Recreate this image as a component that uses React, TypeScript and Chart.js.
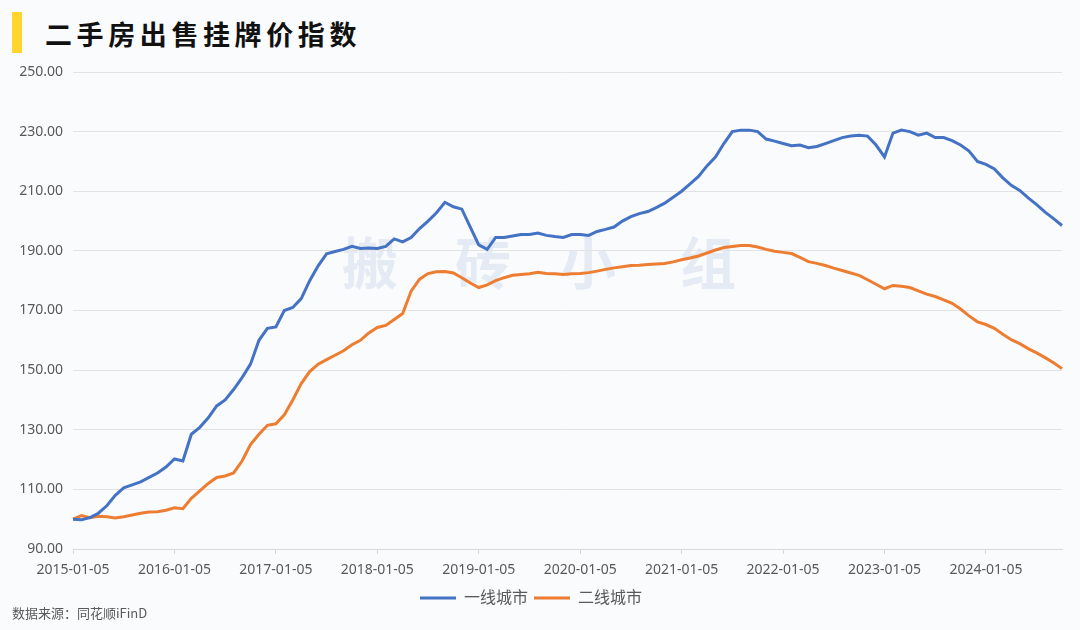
import React, { useEffect, useRef } from "react";
import { Chart, registerables } from "chart.js";

Chart.register(...registerables);

const TITLE = "二手房出售挂牌价指数";
const SOURCE = "数据来源：同花顺iFinD";
const WATERMARK = ["搬", "砖", "小", "组"];
const SERIES_NAMES = ["一线城市", "二线城市"];
const YEARS = [2015, 2016, 2017, 2018, 2019, 2020, 2021, 2022, 2023, 2024];
const MONTHS = ["01", "02", "03", "04", "05", "06", "07", "08", "09", "10", "11", "12"];

// monthly readings, 2015-01 .. 2024-10
const tier1 = [
  100.0, 99.8, 100.5, 102.0, 104.5, 108.0, 110.5, 111.5, 112.5, 114.0, 115.5, 117.5,
  120.2, 119.5, 128.5, 130.8, 134.0, 138.0, 140.0, 143.5, 147.5, 152.0, 160.0, 164.0,
  164.5, 170.0, 171.0, 174.0, 180.0, 185.0, 189.0, 189.8, 190.5, 191.5, 190.8, 191.0,
  190.8, 191.5, 194.0, 193.0, 194.5, 197.5, 200.0, 202.8, 206.3, 204.8, 204.0, 198.0,
  192.0, 190.5, 194.5, 194.5, 195.0, 195.5, 195.5, 196.0, 195.2, 194.8, 194.5, 195.5,
  195.5, 195.2, 196.5, 197.2, 198.0, 200.0, 201.5, 202.5, 203.2, 204.5, 206.0, 208.0,
  210.0, 212.5, 215.0, 218.5, 221.5, 226.0, 230.0, 230.5, 230.5, 230.0, 227.5, 226.8,
  226.0, 225.3, 225.5, 224.6, 225.0, 226.0, 227.0, 228.0, 228.5, 228.8, 228.5, 225.5,
  221.5, 229.5, 230.5, 230.0, 228.8, 229.5, 228.0, 228.0, 227.0, 225.5, 223.5, 220.0,
  219.0, 217.5, 214.5, 212.0, 210.3, 207.8, 205.5, 203.0, 200.8, 198.5,
];

const tier2 = [
  100.0, 101.2, 100.5, 101.0, 100.8, 100.4, 100.8, 101.4, 102.0, 102.4, 102.5, 103.0,
  103.8, 103.5, 107.0, 109.5, 112.0, 114.0, 114.5, 115.5, 119.5, 125.0, 128.5, 131.5,
  132.0, 135.0, 140.0, 145.5, 149.5, 152.0, 153.5, 155.0, 156.5, 158.5, 160.0, 162.5,
  164.3, 165.0, 167.0, 169.0, 176.5, 180.5, 182.4, 183.0, 183.1, 182.6, 181.0, 179.2,
  177.7, 178.6, 180.0, 181.0, 181.8, 182.1, 182.3, 182.8, 182.4, 182.3, 182.1, 182.3,
  182.4, 182.7, 183.2, 183.8, 184.3, 184.7, 185.1, 185.2, 185.4, 185.6, 185.8, 186.3,
  187.0, 187.6, 188.3, 189.3, 190.3, 191.1, 191.5, 191.8, 191.8, 191.3, 190.5, 189.9,
  189.5, 189.1, 187.8, 186.4, 185.8, 185.1, 184.2, 183.4, 182.6, 181.8, 180.3, 178.8,
  177.3, 178.4, 178.1, 177.7, 176.6, 175.5, 174.7, 173.6, 172.4, 170.5, 168.2, 166.2,
  165.3, 164.0, 162.0, 160.2, 158.9, 157.2, 155.8, 154.2, 152.5, 150.5,
];

const labels: string[] = [];
YEARS.forEach((y) => MONTHS.forEach((m) => labels.push(`${y}-${m}-05`)));
labels.length = tier1.length;

const COLORS = ["#4472C4", "#ED7D31"];
const TEXT = "#595959";
const FONT = "'Noto Sans', 'Noto Sans CJK SC', sans-serif";

export default function App() {
  const ref = useRef<HTMLCanvasElement>(null);
  useEffect(() => {
    if (!ref.current) return;
    const chart = new Chart(ref.current, {
      type: "line",
      data: {
        labels,
        datasets: [
          { label: SERIES_NAMES[0], data: tier1, borderColor: COLORS[0], backgroundColor: COLORS[0], borderWidth: 3, pointRadius: 0, tension: 0 },
          { label: SERIES_NAMES[1], data: tier2, borderColor: COLORS[1], backgroundColor: COLORS[1], borderWidth: 3, pointRadius: 0, tension: 0 },
        ],
      },
      options: {
        responsive: false,
        animation: false,
        layout: { padding: { top: 72, right: 18, bottom: 14, left: 0 } },
        plugins: {
          tooltip: { enabled: false },
          legend: {
            position: "bottom",
            labels: {
              usePointStyle: true,
              pointStyle: "line",
              pointStyleWidth: 36,
              boxHeight: 16,
              padding: 6,
              color: TEXT,
              font: { size: 16, family: FONT },
            },
          },
        },
        scales: {
          x: {
            type: "category",
            afterFit: (s: any) => { s.height = 35; },
            grid: { drawOnChartArea: false, drawTicks: true, tickLength: 5, color: "#d9d9d9" },
            border: { color: "#d9d9d9", width: 1 },
            ticks: {
              autoSkip: false,
              maxRotation: 0,
              padding: 8,
              color: TEXT,
              font: { size: 14, family: FONT },
              callback: (_v: any, i: number) => (labels[i].slice(5, 7) === "01" ? labels[i] : null),
            },
          },
          y: {
            min: 90,
            max: 250,
            afterFit: (s: any) => { s.width = 73; },
            grid: { color: "#e3e3e3", drawTicks: false, lineWidth: 1 },
            border: { display: false },
            ticks: {
              stepSize: 20,
              padding: 10,
              color: TEXT,
              font: { size: 14, family: FONT },
              callback: (v: any) => Number(v).toFixed(2),
            },
          },
        },
      },
    });
    return () => chart.destroy();
  }, []);

  return (
    <div style={{ position: "fixed", left: 0, top: 0, width: 1080, height: 630, background: "#fafbfd", overflow: "hidden", fontFamily: FONT }}>
      <div style={{ position: "absolute", left: 12, top: 12, width: 10, height: 41, background: "#FFD52E" }} />
      <div style={{ position: "absolute", left: 45, top: 15, fontSize: 27, fontWeight: 700, letterSpacing: 4.6, color: "#111", lineHeight: "38px", fontFamily: "'Noto Sans CJK SC', sans-serif", whiteSpace: "nowrap" }}>{TITLE}</div>
      {WATERMARK.map((c, i) => (
        <div key={i} style={{ position: "absolute", left: [342, 455, 560, 680][i], top: 228, fontSize: 56, lineHeight: "64px", color: "rgba(205,214,232,0.45)", fontFamily: "'Noto Sans CJK SC', sans-serif", fontWeight: 700 }}>{c}</div>
      ))}
      <canvas ref={ref} width={1080} height={630} style={{ position: "absolute", left: 0, top: 0, width: 1080, height: 630 }} />
      <div style={{ position: "absolute", left: 12, top: 603, fontSize: 13, color: TEXT, fontFamily: "'Noto Sans CJK SC', sans-serif", whiteSpace: "nowrap" }}>{SOURCE}</div>
    </div>
  );
}
